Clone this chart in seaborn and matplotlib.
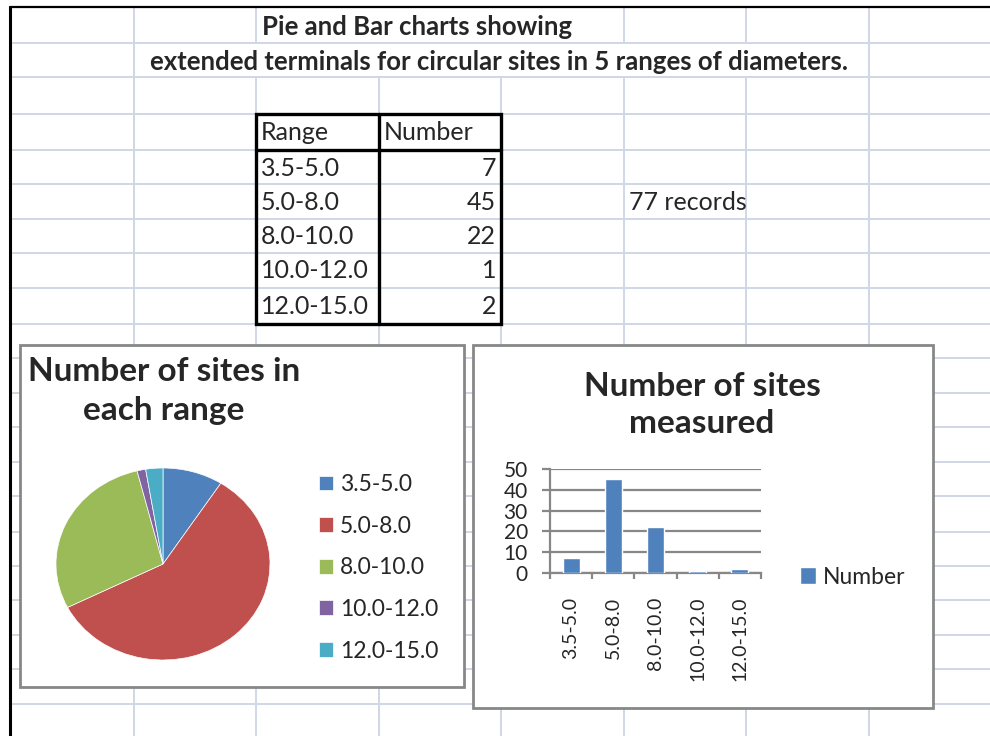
import matplotlib
matplotlib.use('Agg')
import matplotlib.pyplot as plt
import seaborn as sns
from matplotlib.patches import Rectangle, Patch

# ---------------- data ----------------
ranges = ['3.5-5.0', '5.0-8.0', '8.0-10.0', '10.0-12.0', '12.0-15.0']
numbers = [7, 45, 22, 1, 2]
slice_colors = ['#4F81BD', '#C0504D', '#9BBB59', '#8064A2', '#4BACC6']
bar_color = '#4F81BD'
sheet_title_1 = "Pie and Bar charts showing"
sheet_title_2 = "extended terminals for circular sites in 5 ranges of diameters."
table_header = ["Range", "Number"]
records_note = "77 records"
pie_title = "Number of sites in\neach range"
bar_title = "Number of sites\nmeasured"
bar_series = "Number"
y_ticks = [0, 10, 20, 30, 40, 50]

# ---------------- style ----------------
sns.set_style('white')
plt.rcParams['font.family'] = ['Lato', 'DejaVu Sans']

W, H = 990, 736
fig = plt.figure(figsize=(W / 100, H / 100), dpi=100)
bg = fig.add_axes([0, 0, 1, 1])
bg.set_xlim(0, W)
bg.set_ylim(H, 0)
bg.axis('off')


def fbox(x0, y0, x1, y1):
    return [x0 / W, 1 - y1 / H, (x1 - x0) / W, (y1 - y0) / H]


# ---------------- spreadsheet grid ----------------
grid_c = '#D0D7E5'
col_x = [134, 256, 379, 501, 624, 746, 869]
row_y = [43, 77, 114, 150, 184, 219, 253, 288, 324, 358, 393, 427, 462,
         496, 532, 566, 600, 635, 669, 704]
for y in row_y:
    bg.plot([10, W], [y, y], color=grid_c, lw=1.4, zorder=1)
for x in col_x:
    if x in (134, 256, 624, 746, 869):
        bg.plot([x, x], [7, 43], color=grid_c, lw=1.4, zorder=1)
    if x in (134, 869):
        bg.plot([x, x], [43, 77], color=grid_c, lw=1.4, zorder=1)
    bg.plot([x, x], [77, H], color=grid_c, lw=1.4, zorder=1)

bg.plot([10, W], [7, 7], color='black', lw=1.6, zorder=2)
bg.plot([10, 10], [7, H], color='black', lw=2.2, zorder=2)

# sheet titles
bg.text(262, 27, sheet_title_1, ha='left', va='center', fontsize=18.5,
        fontweight='bold', zorder=3)
bg.text(499, 62, sheet_title_2, ha='center', va='center', fontsize=18.5,
        fontweight='bold', zorder=3)

# table
bg.add_patch(Rectangle((256, 114), 245, 210, fill=False, lw=2.4,
                       edgecolor='black', zorder=4))
bg.plot([379, 379], [114, 324], color='black', lw=2.4, zorder=4)
bg.plot([256, 501], [150, 150], color='black', lw=2.4, zorder=4)
tfs = 18
bg.text(261, 133, table_header[0], ha='left', va='center', fontsize=tfs, zorder=5)
bg.text(384, 133, table_header[1], ha='left', va='center', fontsize=tfs, zorder=5)
row_centers = [168, 203, 237, 271, 307]
for yc, r, n in zip(row_centers, ranges, numbers):
    bg.text(261, yc, r, ha='left', va='center', fontsize=tfs, zorder=5)
    bg.text(496, yc, str(n), ha='right', va='center', fontsize=tfs, zorder=5)
bg.text(629, 203, records_note, ha='left', va='center', fontsize=tfs, zorder=5)

# chart boxes
bg.add_patch(Rectangle((20, 345), 444, 342, facecolor='white',
                       edgecolor='#878787', lw=2.0, zorder=6))
bg.add_patch(Rectangle((473, 345), 460, 363, facecolor='white',
                       edgecolor='#878787', lw=2.0, zorder=6))

# ---------------- pie chart ----------------
bg.text(164, 391, pie_title, ha='center', va='center', fontsize=24,
        fontweight='bold', linespacing=1.38, zorder=7)
pax = fig.add_axes(fbox(56, 468, 270, 660))
wedges, _ = pax.pie(numbers, colors=slice_colors, startangle=90,
                    counterclock=False,
                    wedgeprops=dict(edgecolor='white', linewidth=0.5))
pax.set_aspect('auto')
pax.set_xlim(-1, 1)
pax.set_ylim(-1, 1)
pax.legend(wedges, ranges, loc='upper left',
           bbox_to_anchor=(319 / W, 1 - 474 / H),
           bbox_transform=fig.transFigure, frameon=False, fontsize=16.5,
           handlelength=0.62, handleheight=0.62, handletextpad=0.3,
           labelspacing=0.9, borderpad=0, borderaxespad=0)

# ---------------- bar chart ----------------
bg.text(702, 405, bar_title, ha='center', va='center', fontsize=24,
        fontweight='bold', linespacing=1.3, zorder=7)
bax = fig.add_axes(fbox(550, 469, 761, 573))
sns.barplot(x=ranges, y=numbers, ax=bax, color=bar_color, width=0.4,
            saturation=1, zorder=3)
axis_c = '#878787'
bax.set_xlim(-0.5, len(ranges) - 0.5)
bax.set_ylim(0, 50)
bax.set_yticks(y_ticks)
bax.set_facecolor('none')
bax.yaxis.grid(True, color=axis_c, lw=1.6)
bax.xaxis.grid(False)
bax.set_axisbelow(True)
for s in ('top', 'right'):
    bax.spines[s].set_visible(False)
for s in ('left', 'bottom'):
    bax.spines[s].set_color(axis_c)
    bax.spines[s].set_linewidth(1.6)
bax.tick_params(axis='y', which='major', left=True, length=6, width=1.6,
                color=axis_c, labelsize=15, pad=10)
bax.tick_params(axis='x', which='major', bottom=True, length=0,
                labelsize=14, pad=17, labelrotation=90)
bax.set_xticks([i - 0.5 for i in range(len(ranges) + 1)], minor=True)
bax.tick_params(axis='x', which='minor', bottom=True, length=4.5, width=1.6,
                color=axis_c)
for lab in bax.get_xticklabels():
    lab.set_va('top')
    lab.set_ha('center')
bax.set_xlabel('')
bax.set_ylabel('')
bax.legend([Patch(facecolor=bar_color)], [bar_series], loc='center left',
           bbox_to_anchor=(800 / W, 1 - 577 / H),
           bbox_transform=fig.transFigure, frameon=False, fontsize=16.5,
           handlelength=0.7, handleheight=0.7, handletextpad=0.3,
           borderpad=0, borderaxespad=0)

fig.savefig('out.png', dpi=100)
